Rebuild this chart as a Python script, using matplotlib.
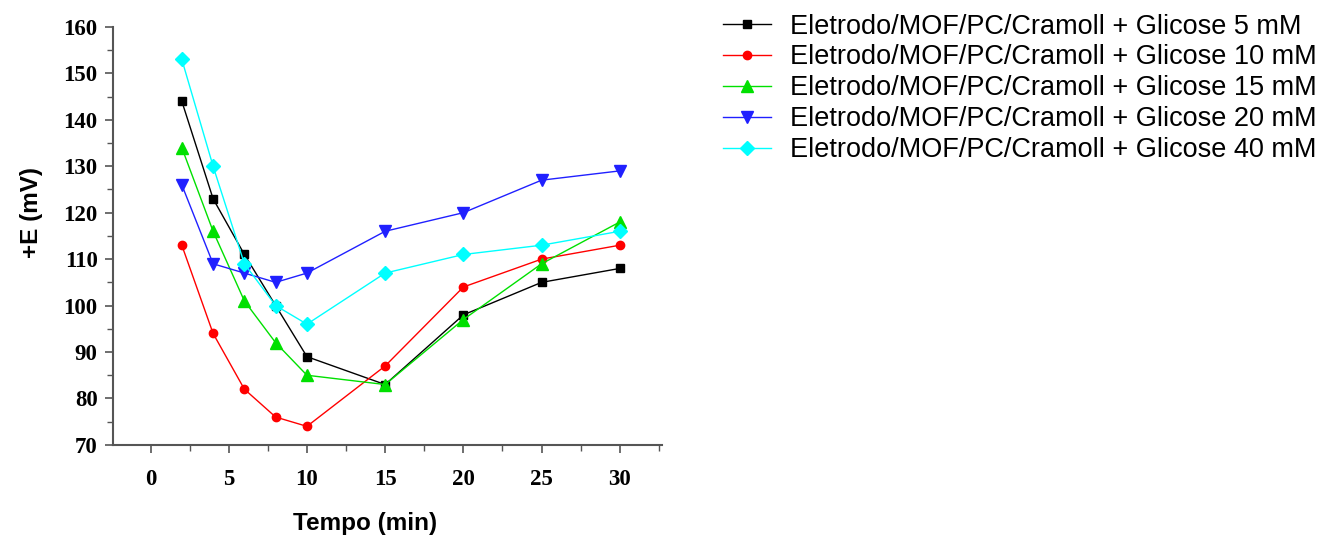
import numpy as np
import matplotlib.pyplot as plt
from matplotlib.ticker import MultipleLocator

tempo = [2, 4, 6, 8, 10, 15, 20, 25, 30]
e_5 = [144, 123, 111, 100, 89, 83, 98, 105, 108]
e_10 = [113, 94, 82, 76, 74, 87, 104, 110, 113]
e_15 = [134, 116, 101, 92, 85, 83, 97, 109, 118]
e_20 = [126, 109, 107, 105, 107, 116, 120, 127, 129]
e_40 = [153, 130, 109, 100, 96, 107, 111, 113, 116]

labels = ["Eletrodo/MOF/PC/Cramoll + Glicose 5 mM",
          "Eletrodo/MOF/PC/Cramoll + Glicose 10 mM",
          "Eletrodo/MOF/PC/Cramoll + Glicose 15 mM",
          "Eletrodo/MOF/PC/Cramoll + Glicose 20 mM",
          "Eletrodo/MOF/PC/Cramoll + Glicose 40 mM"]
series = [e_5, e_10, e_15, e_20, e_40]
colors = ["black", "red", "#00e000", "#2020ff", "cyan"]
markers = ["s", "o", "^", "v", "D"]
msizes = [6, 6, 8, 8, 7]

fig = plt.figure(figsize=(13.23, 5.38), dpi=100)
ax = fig.add_axes([0.0854, 0.173, 0.415, 0.777])

for y, c, m, ms, lab in zip(series, colors, markers, msizes, labels):
    ax.plot(tempo, y, color=c, marker=m, markersize=ms, lw=1, label=lab)

ax.set_xlim(-2.4, 32.7)
ax.set_ylim(70, 160)
ax.xaxis.set_major_locator(MultipleLocator(5))
ax.xaxis.set_minor_locator(MultipleLocator(2.5))
ax.yaxis.set_major_locator(MultipleLocator(10))
ax.yaxis.set_minor_locator(MultipleLocator(5))
for s in ["top", "right"]:
    ax.spines[s].set_visible(False)
for s in ["left", "bottom"]:
    ax.spines[s].set_color("#555555")
    ax.spines[s].set_linewidth(1.5)
ax.tick_params(which="major", length=6, width=1.2, color="#555555")
ax.tick_params(which="minor", length=4, width=1, color="#555555")
for t in ax.get_xticklabels() + ax.get_yticklabels():
    t.set_fontfamily("Liberation Serif")
    t.set_fontweight("bold")
    t.set_fontsize(16.5)
ax.tick_params(axis="x", pad=11)
ax.tick_params(axis="y", pad=5)

ax.set_xlabel("Tempo (min)", fontfamily="Liberation Sans", fontweight="bold",
              fontsize=17.5)
ax.set_ylabel("+E (mV)", fontfamily="Liberation Sans", fontweight="bold",
              fontsize=17.5)
ax.xaxis.set_label_coords(0.459, -0.16)
ax.yaxis.set_label_coords(-0.128, 0.555)

fig.legend(loc="upper left", bbox_to_anchor=(0.538, 0.995), frameon=False,
           prop={"family": "Liberation Sans", "size": 19.5},
           handlelength=1.8, handletextpad=0.7, labelspacing=0.18,
           borderaxespad=0)

fig.savefig("out.png", dpi=100)
